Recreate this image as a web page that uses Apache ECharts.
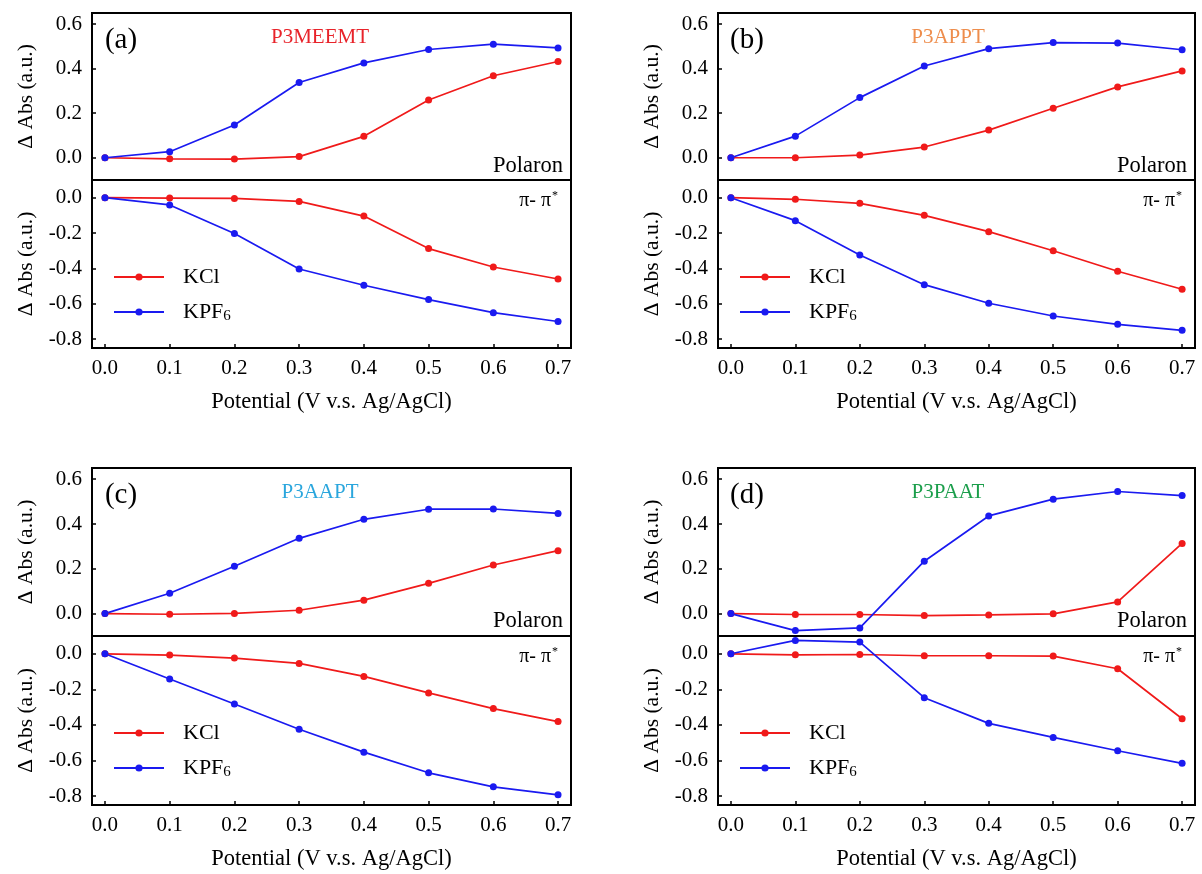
<!DOCTYPE html>
<html><head><meta charset="utf-8">
<script src="https://cdn.jsdelivr.net/npm/echarts@6/dist/echarts.min.js"></script>
<style>html,body{margin:0;padding:0;background:#fff}#c{width:1202px;height:874px}</style>
</head><body><div id="c"></div>
<script>
// ---------- data ----------
const potential = [0.0, 0.1, 0.2, 0.3, 0.4, 0.5, 0.6, 0.7];
const xTicks = [0.0, 0.1, 0.2, 0.3, 0.4, 0.5, 0.6, 0.7];
const polaronTicks = [0.0, 0.2, 0.4, 0.6];
const pipiTicks = [-0.8, -0.6, -0.4, -0.2, 0.0];
const samples = ['P3MEEMT', 'P3APPT', 'P3AAPT', 'P3PAAT'];
const panelLetters = ['(a)', '(b)', '(c)', '(d)'];
const saltNames = ['KCl', 'KPF6'];
const yTitle = 'Δ Abs (a.u.)';
const xTitle = 'Potential (V v.s. Ag/AgCl)';

const a_pol_KCl  = [0, -0.005, -0.006, 0.005, 0.096, 0.259, 0.368, 0.432];
const a_pol_KPF6 = [0, 0.027, 0.147, 0.338, 0.426, 0.486, 0.510, 0.493];
const a_pi_KCl   = [0, -0.002, -0.004, -0.021, -0.104, -0.288, -0.392, -0.460];
const a_pi_KPF6  = [0, -0.041, -0.203, -0.403, -0.495, -0.576, -0.650, -0.700];

const b_pol_KCl  = [0, 0.000, 0.012, 0.048, 0.124, 0.222, 0.318, 0.390];
const b_pol_KPF6 = [0, 0.097, 0.270, 0.412, 0.490, 0.517, 0.515, 0.485];
const b_pi_KCl   = [0, -0.009, -0.032, -0.100, -0.192, -0.300, -0.416, -0.518];
const b_pi_KPF6  = [0, -0.130, -0.324, -0.492, -0.597, -0.669, -0.716, -0.750];

const c_pol_KCl  = [0, -0.003, 0.001, 0.015, 0.060, 0.135, 0.217, 0.281];
const c_pol_KPF6 = [0, 0.091, 0.211, 0.336, 0.421, 0.466, 0.467, 0.447];
const c_pi_KCl   = [0, -0.007, -0.024, -0.054, -0.127, -0.220, -0.308, -0.381];
const c_pi_KPF6  = [0, -0.142, -0.282, -0.424, -0.553, -0.669, -0.748, -0.793];

const d_pol_KCl  = [0, -0.004, -0.004, -0.009, -0.006, -0.001, 0.052, 0.313];
const d_pol_KPF6 = [0, -0.076, -0.064, 0.234, 0.436, 0.511, 0.545, 0.527];
const d_pi_KCl   = [0, -0.006, -0.004, -0.011, -0.011, -0.013, -0.084, -0.365];
const d_pi_KPF6  = [0, 0.075, 0.066, -0.247, -0.391, -0.470, -0.545, -0.616];

const panelData = [
  [a_pol_KCl, a_pol_KPF6, a_pi_KCl, a_pi_KPF6],
  [b_pol_KCl, b_pol_KPF6, b_pi_KCl, b_pi_KPF6],
  [c_pol_KCl, c_pol_KPF6, c_pi_KCl, c_pi_KPF6],
  [d_pol_KCl, d_pol_KPF6, d_pi_KCl, d_pi_KPF6]
];

// ---------- styling / layout ----------
const FONT = 'Liberation Serif';
const RED = '#f01a1a';
const BLUE = '#1a1af0';
const nameColors = ['#e8232a', '#ee8d4c', '#2aa6dd', '#1b9e4b'];
const panels = [
  {left: 92,  width: 479, top: 13,  hTop: 167, hBot: 168},
  {left: 718, width: 477, top: 13,  hTop: 167, hBot: 168},
  {left: 92,  width: 479, top: 468, hTop: 168, hBot: 169},
  {left: 718, width: 477, top: 468, hTop: 168, hBot: 169}
];

const grid = [], xAxis = [], yAxis = [], series = [], legend = [], graphic = [];
const fmt = v => v.toFixed(1);
const TICKFS = 21;

panels.forEach((p, k) => {
  const gTop = grid.length;
  grid.push({left: p.left, top: p.top, width: p.width, height: p.hTop,
    show: true, borderColor: '#000', borderWidth: 2, backgroundColor: 'transparent'});
  grid.push({left: p.left, top: p.top + p.hTop, width: p.width, height: p.hBot,
    show: true, borderColor: '#000', borderWidth: 2, backgroundColor: 'transparent'});

  const xBase = {type: 'value', min: -0.02, max: 0.72, splitLine: {show: false},
    axisLine: {show: false, onZero: false}};
  xAxis.push(Object.assign({}, xBase, {gridIndex: gTop, axisTick: {show: false}, axisLabel: {show: false}}));
  xAxis.push(Object.assign({}, xBase, {gridIndex: gTop + 1,
    axisTick: {show: true, inside: true, length: 4, customValues: xTicks, lineStyle: {color: '#000', width: 1.5}},
    axisLabel: {show: true, customValues: xTicks, formatter: fmt, color: '#000', fontFamily: FONT, fontSize: TICKFS, margin: 10},
    name: xTitle, nameLocation: 'middle', nameGap: 43,
    nameTextStyle: {color: '#000', fontFamily: FONT, fontSize: 22.5}}));

  const yBase = {type: 'value', splitLine: {show: false}, axisLine: {show: false, onZero: false},
    name: yTitle, nameLocation: 'middle', nameGap: 55,
    nameTextStyle: {color: '#000', fontFamily: FONT, fontSize: 21.5}};
  yAxis.push(Object.assign({}, yBase, {gridIndex: gTop, min: -0.1, max: 0.65,
    axisTick: {show: true, inside: true, length: 4, customValues: polaronTicks, lineStyle: {color: '#000', width: 1.5}},
    axisLabel: {show: true, customValues: polaronTicks, formatter: fmt, color: '#000', fontFamily: FONT, fontSize: TICKFS, margin: 10}}));
  yAxis.push(Object.assign({}, yBase, {gridIndex: gTop + 1, min: -0.85, max: 0.1,
    axisTick: {show: true, inside: true, length: 4, customValues: pipiTicks, lineStyle: {color: '#000', width: 1.5}},
    axisLabel: {show: true, customValues: pipiTicks, formatter: fmt, color: '#000', fontFamily: FONT, fontSize: TICKFS, margin: 10}}));

  const d = panelData[k];
  const mk = (name, arr, idx, color) => ({
    name: name, type: 'line', xAxisIndex: idx, yAxisIndex: idx,
    data: potential.map((x, i) => [x, arr[i]]),
    symbol: 'circle', symbolSize: 7, showSymbol: true,
    lineStyle: {color: color, width: 1.7}, itemStyle: {color: color},
    emphasis: {disabled: true}, animation: false
  });
  series.push(mk(saltNames[0], d[0], gTop, RED));
  series.push(mk(saltNames[1], d[1], gTop, BLUE));
  series.push(mk(saltNames[0], d[2], gTop + 1, RED));
  series.push(mk(saltNames[1], d[3], gTop + 1, BLUE));

  const botTop = p.top + p.hTop;
  legend.push({
    data: saltNames, orient: 'vertical', left: p.left + 16, top: botTop + 81,
    itemWidth: 50, itemHeight: 9, itemGap: 13, selectedMode: false,
    textStyle: {color: '#000', fontFamily: FONT, fontSize: 22, padding: [0, 0, 0, 14],
      rich: {sub: {fontFamily: FONT, fontSize: 15, verticalAlign: 'bottom', padding: [9, 0, 0, 0]}}},
    formatter: n => n === 'KPF6' ? 'KPF{sub|6}' : n
  });

  graphic.push({type: 'text', x: p.left + 29, y: p.top + 27,
    style: {text: panelLetters[k], fill: '#000', font: '29px "' + FONT + '"', align: 'center', verticalAlign: 'middle'}});
  graphic.push({type: 'text', x: p.left + 228 + (k % 2 ? 2 : 0), y: p.top + 24,
    style: {text: samples[k], fill: nameColors[k], font: '21px "' + FONT + '"', align: 'center', verticalAlign: 'middle'}});
  graphic.push({type: 'text', x: p.left + p.width - 8, y: p.top + 153,
    style: {text: 'Polaron', fill: '#000', font: '22.5px "' + FONT + '"', align: 'right', verticalAlign: 'middle'}});
  graphic.push({type: 'text', x: p.left + p.width - 13, y: botTop + 21,
    style: {text: 'π- π{sup|*}', fill: '#000', font: '20px "' + FONT + '"', align: 'right', verticalAlign: 'middle',
      rich: {sup: {fontFamily: FONT, fontSize: 12, verticalAlign: 'top', padding: [0, 0, 10, 1]}}}});
});

const chart = echarts.init(document.getElementById('c'), null, {renderer: 'canvas'});
chart.setOption({
  animation: false,
  backgroundColor: '#fff',
  grid, xAxis, yAxis, series, legend, graphic
});
</script>
</body></html>
